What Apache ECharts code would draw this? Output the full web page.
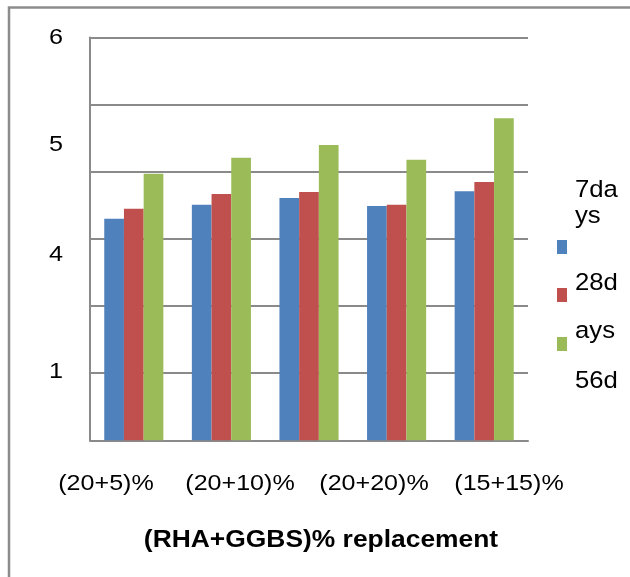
<!DOCTYPE html>
<html>
<head>
<meta charset="utf-8">
<script src="https://cdn.jsdelivr.net/npm/echarts@6/dist/echarts.min.js"></script>
<style>html,body{margin:0;padding:0;background:#fff}#c{width:630px;height:577px}</style>
</head>
<body>
<div id="c"></div>
<script>
var categories = ['(20+5)%', '(20+10)%', '(20+20)%', '(15+15)%', ''];
var seriesNames = ['7days', '28days', '56days'];
var days7 = [3.30, 3.51, 3.61, 3.49, 3.71];
var days28 = [3.45, 3.67, 3.70, 3.51, 3.85];
var days56 = [3.97, 4.21, 4.40, 4.18, 4.80];
var xTickLabels = ['(20+5)%', '(20+10)%', '(20+20)%', '(15+15)%'];
var yTickLabels = ['6', '5', '4', '1'];
var legendLines = ['7da', 'ys', '28d', 'ays', '56d'];
var axisTitle = '(RHA+GGBS)% replacement';

var colors = ['#4F81BD', '#C0504D', '#9BBB59'];
var FONT = '"Liberation Sans", Arial, sans-serif';

var chart = echarts.init(document.getElementById('c'));

var graphics = [];
// outer frame (left and top edges visible)
graphics.push({type: 'rect', shape: {x: 9, y: 7.5, width: 800, height: 800},
  style: {fill: 'none', stroke: '#8c8c8c', lineWidth: 2.5}, z: 0});

// y tick labels (as they appear)
var yLabelPos = [38, 145, 255, 372];
yTickLabels.forEach(function (t, i) {
  graphics.push({type: 'text', x: 56, y: yLabelPos[i], scaleX: 1.12,
    style: {text: t, fontSize: 22.5, fontFamily: FONT, fill: '#000', textAlign: 'center', textVerticalAlign: 'middle'}});
});
// x tick labels
var xLabelPos = [106, 240, 374, 509];
xTickLabels.forEach(function (t, i) {
  graphics.push({type: 'text', x: xLabelPos[i], y: 495, scaleX: 1.14,
    style: {text: t, fontSize: 22, fontFamily: FONT, fill: '#000', textAlign: 'center', textVerticalAlign: 'bottom'}});
});
// axis title
graphics.push({type: 'text', x: 321, y: 552, scaleX: 1.1,
  style: {text: axisTitle, fontSize: 24, fontWeight: 'bold', fontFamily: FONT, fill: '#000', textAlign: 'center', textVerticalAlign: 'bottom'}});

// legend
var legendTextY = [203, 229, 296, 344, 394];
legendLines.forEach(function (t, i) {
  graphics.push({type: 'text', x: 575, y: legendTextY[i], scaleX: 1.05,
    style: {text: t, fontSize: 24.5, fontFamily: FONT, fill: '#000', textAlign: 'left', textVerticalAlign: 'bottom'}});
});
var legendSqY = [240, 288, 337];
seriesNames.forEach(function (n, i) {
  graphics.push({type: 'rect', shape: {x: 557, y: legendSqY[i], width: 10, height: 14},
    style: {fill: colors[i]}});
});

var seriesData = [days7, days28, days56];
chart.setOption({
  animation: false,
  color: colors,
  grid: {left: 90, right: 102, top: 37.6, bottom: 136.7, containLabel: false},
  xAxis: {
    type: 'category', data: categories,
    axisLine: {show: true, lineStyle: {color: '#8a8a8a', width: 2}},
    axisTick: {show: false}, axisLabel: {show: false}
  },
  yAxis: {
    type: 'value', min: 0, max: 6, interval: 1,
    axisLine: {show: true, lineStyle: {color: '#8a8a8a', width: 2}},
    axisTick: {show: false}, axisLabel: {show: false},
    splitLine: {show: true, lineStyle: {color: '#8a8a8a', width: 2}}
  },
  series: seriesNames.map(function (n, i) {
    return {name: n, type: 'bar', data: seriesData[i], barWidth: 19.7, barGap: '0%',
      itemStyle: {color: colors[i]}};
  }),
  graphic: graphics
});
</script>
</body>
</html>
